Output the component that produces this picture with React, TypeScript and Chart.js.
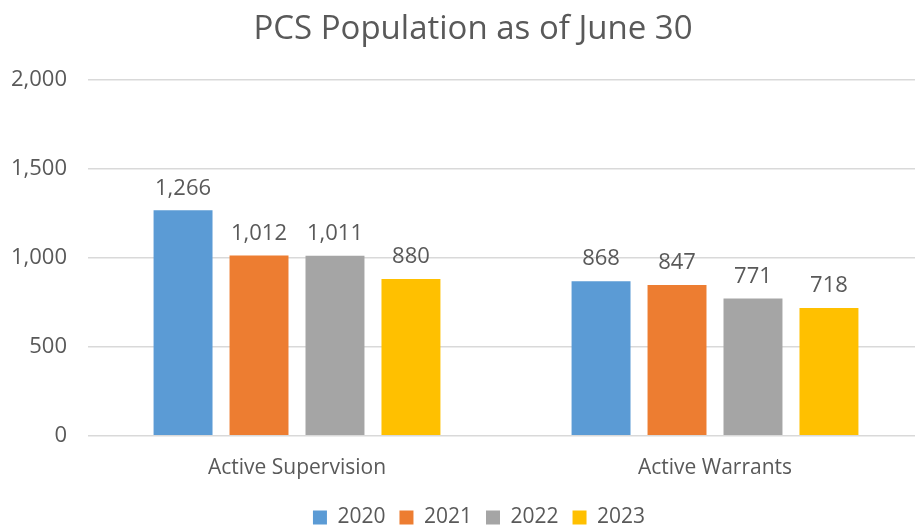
import React, { useEffect, useRef } from "react";
import { Chart, registerables } from "chart.js";

Chart.register(...registerables);

const categories = ["Active Supervision", "Active Warrants"];
const years = ["2020", "2021", "2022", "2023"];
const values2020 = [1266, 868];
const values2021 = [1012, 847];
const values2022 = [1011, 771];
const values2023 = [880, 718];
const colors = ["#5b9bd5", "#ed7d31", "#a5a5a5", "#ffc000"];
const yTicks = [0, 500, 1000, 1500, 2000];

const FONT = "'Open Sans', 'Liberation Sans', sans-serif";
const TEXT = "#595959";

const labelPlugin = {
  id: "barLabels",
  afterLayout(chart: any) {
    if (chart.titleBlock) {
      chart.titleBlock.left += 11;
      chart.titleBlock.right += 11;
    }
    if (chart.legend) {
      chart.legend.left += 17;
      chart.legend.right += 17;
    }
  },
  afterDatasetsDraw(chart: any) {
    const ctx = chart.ctx;
    ctx.save();
    ctx.fillStyle = TEXT;
    ctx.font = `22px ${FONT}`;
    ctx.textAlign = "center";
    ctx.textBaseline = "bottom";
    chart.data.datasets.forEach((ds: any, i: number) => {
      const meta = chart.getDatasetMeta(i);
      meta.data.forEach((bar: any, j: number) => {
        const v = ds.data[j];
        ctx.fillText(v.toLocaleString("en-US"), bar.x, bar.y - 11);
      });
    });
    ctx.restore();
  },
};

export default function App() {
  const ref = useRef<HTMLCanvasElement>(null);
  useEffect(() => {
    document.body.style.margin = "0";
    const series = [values2020, values2021, values2022, values2023];
    const chart = new Chart(ref.current!, {
      type: "bar",
      data: {
        labels: categories,
        datasets: years.map((y, i) => ({
          label: y,
          data: series[i],
          backgroundColor: colors[i],
          categoryPercentage: 0.727,
          barPercentage: 0.776,
        })),
      },
      options: {
        responsive: false,
        animation: false,
        layout: { padding: { top: 4, right: 21, left: 0, bottom: -11 } },
        plugins: {
          title: {
            display: true,
            text: "PCS Population as of June 30",
            color: TEXT,
            font: { family: FONT, size: 33, weight: "normal" },
            padding: { top: 6, bottom: 30 },
          },
          legend: {
            position: "bottom",
            labels: {
              color: TEXT,
              font: { family: FONT, size: 21 },
              boxWidth: 14,
              boxHeight: 14,
              padding: 14,
            },
          },
          tooltip: { enabled: false },
        },
        scales: {
          x: {
            grid: { display: false },
            border: { display: false },
            ticks: { color: TEXT, font: { family: FONT, size: 21 }, padding: 12 },
          },
          y: {
            min: 0,
            max: 2000,
            afterBuildTicks(axis: any) {
              axis.ticks = yTicks.map((v) => ({ value: v }));
            },
            afterFit(axis: any) {
              axis.width = 88;
            },
            grid: { color: "#d9d9d9", lineWidth: 1.5, drawTicks: false },
            border: { display: false },
            ticks: {
              color: TEXT,
              font: { family: FONT, size: 22 },
              padding: 21,
              callback: (v: any) => Number(v).toLocaleString("en-US"),
            },
          },
        },
      },
      plugins: [labelPlugin],
    });
    return () => chart.destroy();
  }, []);
  return (
    <div style={{ width: 915, height: 527, overflow: "hidden" }}>
      <canvas ref={ref} width={945} height={527} style={{ display: "block" }} />
    </div>
  );
}
